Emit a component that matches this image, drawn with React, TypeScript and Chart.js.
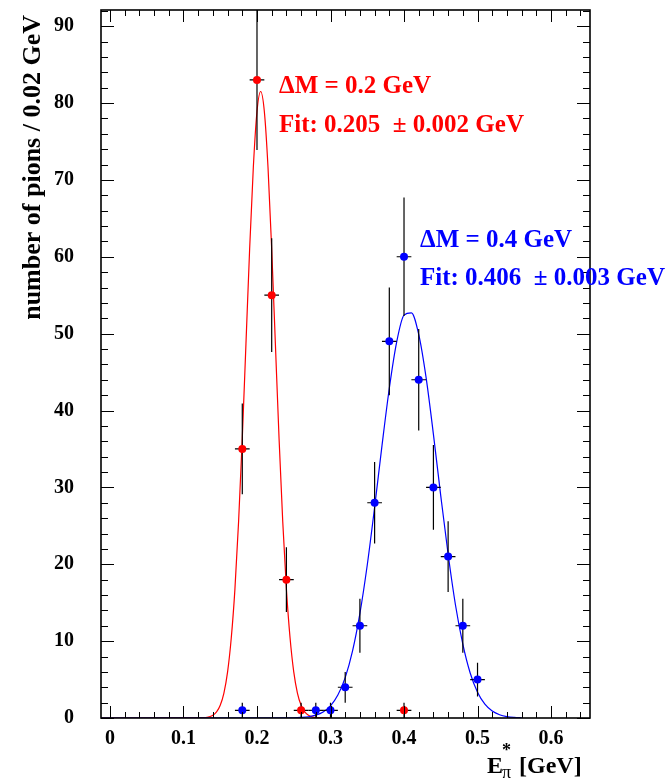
import React, { useEffect, useRef } from "react";
import { Chart, registerables } from "chart.js";

Chart.register(...registerables);

// ---- axis ticks ----
const xTicks = [0, 0.1, 0.2, 0.3, 0.4, 0.5, 0.6];
const xTickLabels = ["0", "0.1", "0.2", "0.3", "0.4", "0.5", "0.6"];
const yTicks = [0, 10, 20, 30, 40, 50, 60, 70, 80, 90];
const yTickLabels = ["0", "10", "20", "30", "40", "50", "60", "70", "80", "90"];
const xMinorStep = 0.02;
const yMinorStep = 2;

// ---- data: ΔM = 0.2 GeV (red) ----
const redX = [0.18, 0.2, 0.22, 0.24, 0.26, 0.4];
const redY = [35, 83, 55, 18, 1, 1];
const redErr = [5.9, 9.1, 7.4, 4.2, 1, 1];

// ---- data: ΔM = 0.4 GeV (blue) ----
const blueX = [0.18, 0.28, 0.3, 0.32, 0.34, 0.36, 0.38, 0.4, 0.42, 0.44, 0.46, 0.48, 0.5];
const blueY = [1, 1, 1, 4, 12, 28, 49, 60, 44, 30, 21, 12, 5];
const blueErr = [1, 1, 1, 2, 3.5, 5.3, 7, 7.7, 6.6, 5.5, 4.6, 3.5, 2.2];
const binHalfWidth = 0.01;

// ---- fit curves ----
const redFitX = [
  -0.012, 0.13, 0.135, 0.14, 0.145, 0.15, 0.155, 0.16, 0.165, 0.17, 0.175, 0.18, 0.185, 0.19,
  0.195, 0.2, 0.205, 0.21, 0.215, 0.22, 0.225, 0.23, 0.235, 0.24, 0.245, 0.25, 0.255, 0.26,
  0.265, 0.27, 0.275, 0.28, 0.3,
];
const redFitY = [
  0, 0.06, 0.15, 0.35, 0.79, 1.66, 3.25, 6.0, 10.4, 16.8, 25.6, 36.4, 48.7, 61.0,
  71.6, 78.9, 81.5, 78.9, 71.6, 61.0, 48.7, 36.4, 25.6, 16.8, 10.4, 6.0, 3.25, 1.66,
  0.79, 0.35, 0.15, 0.06, 0,
];
const blueFitX = [
  -0.012, 0.25, 0.26, 0.27, 0.28, 0.29, 0.3, 0.31, 0.32, 0.33, 0.34, 0.35, 0.36, 0.37, 0.38,
  0.39, 0.4, 0.41, 0.42, 0.43, 0.44, 0.45, 0.46, 0.47, 0.48, 0.49, 0.5, 0.51, 0.52, 0.53,
  0.54, 0.55, 0.56,
];
const blueFitY = [
  0, 0.03, 0.07, 0.16, 0.37, 0.79, 1.58, 2.98, 5.26, 8.72, 13.6, 19.9, 27.4, 35.4, 42.9,
  48.9, 52.4, 52.7, 49.9, 44.3, 36.9, 28.9, 21.3, 14.7, 9.6, 5.85, 3.35, 1.8, 0.91, 0.43,
  0.19, 0.08, 0.03,
];

const RED = "#ff0000";
const BLUE = "#0000ff";
const FONT = '"Liberation Serif", "Times New Roman", serif';

const pts = (xs: number[], ys: number[]) => xs.map((x, i) => ({ x, y: ys[i] }));

const decor = {
  id: "decor",
  beforeDatasetDraw(chart: any, args: any) {
    if (args.index !== 1) return;
    const { ctx, chartArea: a, scales } = chart;
    const sx = scales.x;
    const sy = scales.y;
    ctx.save();
    ctx.beginPath();
    ctx.rect(a.left, a.top, a.right - a.left, a.bottom - a.top);
    ctx.clip();
    ctx.strokeStyle = "#000";
    ctx.lineWidth = 1.2;
    const draw = (xs: number[], ys: number[], es: number[]) => {
      xs.forEach((x, i) => {
        const px = sx.getPixelForValue(x);
        const py = sy.getPixelForValue(ys[i]);
        ctx.beginPath();
        ctx.moveTo(px, sy.getPixelForValue(ys[i] - es[i]));
        ctx.lineTo(px, sy.getPixelForValue(ys[i] + es[i]));
        ctx.moveTo(sx.getPixelForValue(x - binHalfWidth), py);
        ctx.lineTo(sx.getPixelForValue(x + binHalfWidth), py);
        ctx.stroke();
      });
    };
    draw(redX, redY, redErr);
    draw(blueX, blueY, blueErr);
    ctx.restore();
  },
  afterDraw(chart: any) {
    const { ctx, chartArea: a, scales } = chart;
    const sx = scales.x;
    const sy = scales.y;
    ctx.save();
    ctx.strokeStyle = "#000";
    ctx.lineWidth = 1;
    // ticks inside the frame
    ctx.beginPath();
    for (let k = 0; k * yMinorStep <= sy.max + 1e-9; k++) {
      const v = k * yMinorStep;
      const py = Math.round(sy.getPixelForValue(v)) + 0.5;
      const len = k % 5 === 0 ? 13 : 7;
      ctx.moveTo(a.left, py);
      ctx.lineTo(a.left + len, py);
      ctx.moveTo(a.right, py);
      ctx.lineTo(a.right - len, py);
    }
    for (let k = 0; k * xMinorStep <= sx.max + 1e-9; k++) {
      const v = k * xMinorStep;
      const px = Math.round(sx.getPixelForValue(v)) + 0.5;
      const len = k % 5 === 0 ? 12 : 6;
      ctx.moveTo(px, a.bottom);
      ctx.lineTo(px, a.bottom - len);
      ctx.moveTo(px, a.top);
      ctx.lineTo(px, a.top + len);
    }
    ctx.stroke();
    // frame
    ctx.lineWidth = 1.6;
    ctx.strokeRect(a.left, a.top, a.right - a.left, a.bottom - a.top);

    // y title
    ctx.fillStyle = "#000";
    ctx.font = `bold 26px ${FONT}`;
    ctx.save();
    ctx.translate(40, 15);
    ctx.rotate(-Math.PI / 2);
    ctx.textAlign = "right";
    ctx.textBaseline = "alphabetic";
    ctx.fillText("number of pions / 0.02 GeV", 0, 0);
    ctx.restore();

    // x title: E*_π [GeV]
    ctx.textAlign = "left";
    ctx.textBaseline = "alphabetic";
    ctx.font = `bold 24px ${FONT}`;
    ctx.fillText("E", 487, 773);
    ctx.font = `bold 18px ${FONT}`;
    ctx.fillText("*", 502, 756);
    ctx.font = `18px ${FONT}`;
    ctx.fillText("π", 502, 778);
    ctx.font = `bold 24px ${FONT}`;
    ctx.fillText("[GeV]", 519, 773);

    // annotations
    ctx.font = `bold 25px ${FONT}`;
    ctx.fillStyle = RED;
    ctx.fillText("ΔM = 0.2 GeV", 279, 93);
    ctx.fillText("Fit: 0.205  ± 0.002 GeV", 279, 132);
    ctx.fillStyle = BLUE;
    ctx.fillText("ΔM = 0.4 GeV", 420, 247);
    ctx.fillText("Fit: 0.406  ± 0.003 GeV", 420, 285);
    ctx.restore();
  },
};

export default function App() {
  const ref = useRef<HTMLCanvasElement | null>(null);
  useEffect(() => {
    if (!ref.current) return;
    const chart = new Chart(ref.current, {
      type: "scatter",
      data: {
        datasets: [
          {
            label: "ΔM = 0.4 GeV",
            data: pts(blueX, blueY),
            pointRadius: 4,
            pointHoverRadius: 4,
            pointBackgroundColor: BLUE,
            pointBorderWidth: 0,
            showLine: false,
          },
          {
            label: "ΔM = 0.2 GeV",
            data: pts(redX, redY),
            pointRadius: 4,
            pointHoverRadius: 4,
            pointBackgroundColor: RED,
            pointBorderWidth: 0,
            showLine: false,
          },
          {
            label: "fit 0.4",
            data: pts(blueFitX, blueFitY),
            showLine: true,
            pointRadius: 0,
            borderColor: BLUE,
            borderWidth: 1.2,
            cubicInterpolationMode: "monotone",
          },
          {
            label: "fit 0.2",
            data: pts(redFitX, redFitY),
            showLine: true,
            pointRadius: 0,
            borderColor: RED,
            borderWidth: 1.2,
            cubicInterpolationMode: "monotone",
          },
        ],
      },
      options: {
        responsive: false,
        animation: false,
        devicePixelRatio: 1,
        layout: { padding: { left: 0, right: 75, top: 10, bottom: 0 } },
        plugins: { legend: { display: false }, tooltip: { enabled: false } },
        scales: {
          x: {
            type: "linear",
            min: -0.0122,
            max: 0.653,
            grid: { display: false },
            border: { display: false },
            afterBuildTicks: (s: any) => {
              s.ticks = xTicks.map((v) => ({ value: v }));
            },
            afterFit: (s: any) => {
              s.height = 62;
              s.paddingLeft = 0;
              s.paddingRight = 0;
              s.paddingTop = 0;
              s.paddingBottom = 0;
            },
            ticks: {
              padding: 1,
              color: "#000",
              font: { family: FONT, size: 20, weight: "bold" },
              maxRotation: 0,
              autoSkip: false,
              callback: (v: any) => {
                const i = xTicks.findIndex((t) => Math.abs(t - Number(v)) < 1e-9);
                return i >= 0 ? xTickLabels[i] : "";
              },
            },
          },
          y: {
            type: "linear",
            min: 0,
            max: 92.1,
            grid: { display: false },
            border: { display: false },
            afterBuildTicks: (s: any) => {
              s.ticks = yTicks.map((v) => ({ value: v }));
            },
            afterFit: (s: any) => {
              s.width = 101;
              s.paddingLeft = 0;
              s.paddingRight = 0;
              s.paddingTop = 0;
              s.paddingBottom = 0;
            },
            ticks: {
              padding: 19,
              color: "#000",
              font: { family: FONT, size: 20, weight: "bold" },
              autoSkip: false,
              callback: (v: any) => {
                const i = yTicks.findIndex((t) => Math.abs(t - Number(v)) < 1e-9);
                return i >= 0 ? yTickLabels[i] : "";
              },
            },
          },
        },
      },
      plugins: [decor],
    } as any);
    return () => chart.destroy();
  }, []);
  return (
    <div style={{ position: "fixed", left: 0, top: 0, width: 665, height: 780, background: "#fff" }}>
      <canvas ref={ref} width={665} height={780} style={{ display: "block" }} />
    </div>
  );
}
